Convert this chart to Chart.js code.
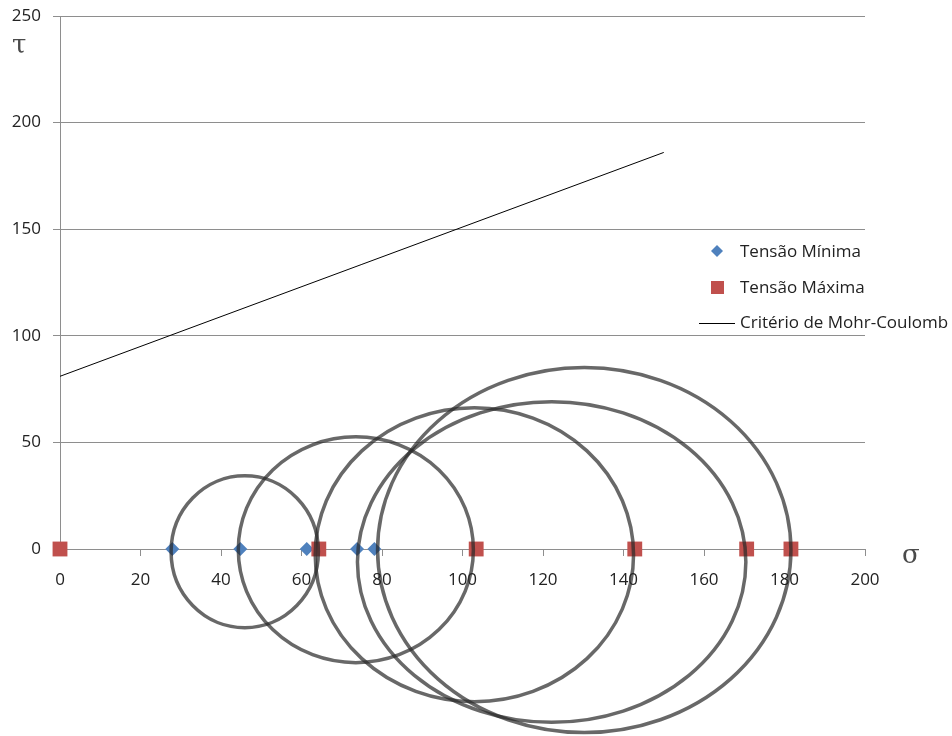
<!DOCTYPE html>
<html>
<head>
<meta charset="utf-8">
<script src="https://cdn.jsdelivr.net/npm/chart.js@4.4.1/dist/chart.umd.min.js"></script>
<style>
  html, body { margin: 0; padding: 0; background: #fff; }
  #wrap { width: 952px; height: 736px; position: relative; }
</style>
</head>
<body>
<div id="wrap"><canvas id="mohrChart"></canvas></div>
<script>
// tensões (σ) de cada ensaio, todas sobre τ = 0
const tensaoMinima = [27.9, 44.8, 61.3, 73.8, 78.1];
const tensaoMaxima = [0, 64.3, 103.4, 142.8, 170.6, 181.6];

// círculos de Mohr: extensão em σ e em τ de cada um
const circuloSigmaMin = [27.6, 44.3, 63.4, 73.9, 78.9];
const circuloSigmaMax = [64.2, 102.7, 142.5, 170.4, 181.6];
const circuloTauTopo = [34.4, 52.6, 66.2, 69.1, 85.1];
const circuloTauBase = [-36.9, -53.3, -71.6, -81.3, -86.1];

// reta do critério de Mohr-Coulomb
const criterioSigma = [0, 150];
const criterioTau = [81, 186];

const ticksSigma = [0, 20, 40, 60, 80, 100, 120, 140, 160, 180, 200];
const ticksTau = [0, 50, 100, 150, 200, 250];

const nomes = ['Tensão Mínima', 'Tensão Máxima', 'Critério de Mohr-Coulomb'];

const AZUL = '#4F81BD';
const VERMELHO = '#C0504D';
const GRADE = '#8e8e8e';
const FONTE = "'Open Sans', sans-serif";

const circulosMohr = {
  id: 'circulosMohr',
  afterDatasetsDraw(chart) {
    const { ctx, scales: { x, y } } = chart;
    ctx.save();
    ctx.strokeStyle = 'rgba(40,40,40,0.7)';
    ctx.lineWidth = 3.5;
    circuloSigmaMin.forEach((s3, i) => {
      const x0 = x.getPixelForValue(s3);
      const x1 = x.getPixelForValue(circuloSigmaMax[i]);
      const y0 = y.getPixelForValue(circuloTauTopo[i]);
      const y1 = y.getPixelForValue(circuloTauBase[i]);
      ctx.beginPath();
      ctx.ellipse((x0 + x1) / 2, (y0 + y1) / 2, (x1 - x0) / 2, (y1 - y0) / 2, 0, 0, Math.PI * 2);
      ctx.stroke();
    });
    ctx.restore();
  }
};

// legenda e símbolos dos eixos
const legendaEixos = {
  id: 'legendaEixos',
  afterDraw(chart) {
    const { ctx } = chart;
    ctx.save();

    // losango
    ctx.fillStyle = AZUL;
    ctx.beginPath();
    ctx.moveTo(717, 245); ctx.lineTo(723, 251); ctx.lineTo(717, 257); ctx.lineTo(711, 251);
    ctx.closePath(); ctx.fill();
    // quadrado
    ctx.fillStyle = VERMELHO;
    ctx.fillRect(711, 281, 13, 13);
    // linha
    ctx.strokeStyle = '#000';
    ctx.lineWidth = 1;
    ctx.beginPath(); ctx.moveTo(699, 323.5); ctx.lineTo(735, 323.5); ctx.stroke();

    ctx.font = '17px ' + FONTE;
    ctx.fillStyle = '#222';
    ctx.textBaseline = 'middle';
    ctx.textAlign = 'left';
    ctx.fillText(nomes[0], 740, 252);
    ctx.fillText(nomes[1], 740, 288);
    ctx.fillText(nomes[2], 740, 323);

    ctx.fillStyle = '#4a4a4a';
    ctx.font = "26px 'DejaVu Serif', serif";
    ctx.textBaseline = 'alphabetic';
    ctx.fillText('τ', 12, 53);
    ctx.fillText('σ', 902, 563);
    ctx.restore();
  }
};

new Chart(document.getElementById('mohrChart'), {
  type: 'scatter',
  data: {
    datasets: [
      {
        label: nomes[0],
        data: tensaoMinima.map(s => ({ x: s, y: 0 })),
        pointStyle: 'rectRot',
        pointRadius: 7,
        backgroundColor: AZUL,
        borderColor: AZUL,
        borderWidth: 0,
        clip: false,
        order: 2
      },
      {
        label: nomes[1],
        data: tensaoMaxima.map(s => ({ x: s, y: 0 })),
        pointStyle: 'rect',
        pointRadius: 10.5,
        backgroundColor: VERMELHO,
        borderColor: VERMELHO,
        borderWidth: 0,
        clip: false,
        order: 1
      },
      {
        label: nomes[2],
        data: criterioSigma.map((s, i) => ({ x: s, y: criterioTau[i] })),
        showLine: true,
        pointRadius: 0,
        borderColor: '#000',
        borderWidth: 1,
        order: 3
      }
    ]
  },
  options: {
    responsive: true,
    maintainAspectRatio: false,
    animation: false,
    events: [],
    layout: { padding: { top: 16, right: 87, left: 0, bottom: 0 } },
    plugins: {
      legend: { display: false },
      tooltip: { enabled: false }
    },
    scales: {
      x: {
        type: 'linear',
        min: 0,
        max: 200,
        afterBuildTicks: scale => { scale.ticks = ticksSigma.map(v => ({ value: v })); },
        afterFit: scale => { scale.height = 187; scale.paddingRight = 0; },
        grid: { drawOnChartArea: false, drawTicks: true, tickLength: 7, color: GRADE },
        border: { color: GRADE },
        ticks: { padding: 14, color: '#222', font: { family: FONTE, size: 17 }, maxRotation: 0 }
      },
      y: {
        type: 'linear',
        min: 0,
        max: 250,
        afterBuildTicks: scale => { scale.ticks = ticksTau.map(v => ({ value: v })); },
        afterFit: scale => { scale.width = 60; scale.paddingTop = 0; scale.paddingBottom = 0; },
        grid: { color: GRADE, tickLength: 7 },
        border: { color: GRADE },
        ticks: { padding: 12, color: '#222', font: { family: FONTE, size: 17 } }
      }
    }
  },
  plugins: [circulosMohr, legendaEixos]
});
</script>
</body>
</html>
